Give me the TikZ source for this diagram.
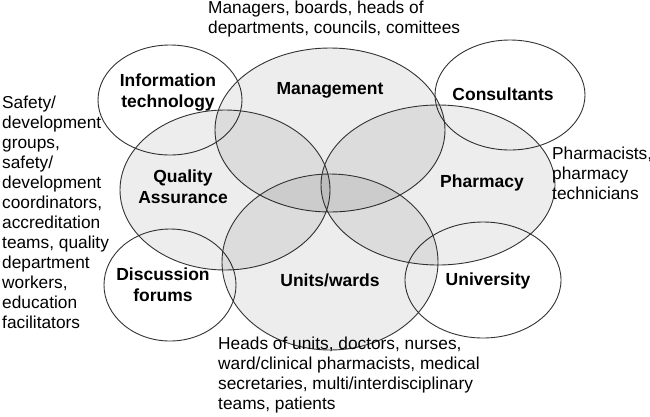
\documentclass[tikz,border=0pt]{standalone}
\usepackage{fontspec}
\setmainfont{Liberation Sans}
\begin{document}
\begin{tikzpicture}[x=1pt,y=-1pt,
  big/.style={draw=black!80,line width=0.9pt,fill=black,fill opacity=0.07,text opacity=1},
  small/.style={draw=black!80,line width=0.9pt},
  lab/.style={font=\fontsize{17.5}{21}\selectfont\bfseries,align=center},
  note/.style={font=\fontsize{17.3}{20}\selectfont,align=left,anchor=north west,inner sep=0pt}]
\useasboundingbox (0,0) rectangle (650,416);
\fill[white] (0,0) rectangle (650,416);
\draw[small] (170,100) ellipse [x radius=72,y radius=55];
\draw[small] (510,95) ellipse [x radius=75,y radius=55];
\draw[small] (170,285) ellipse [x radius=66,y radius=56];
\draw[small] (483,280) ellipse [x radius=78,y radius=58];
\draw[big] (330,130) ellipse [x radius=115,y radius=82];
\draw[big] (225,190) ellipse [x radius=105,y radius=80];
\draw[big] (438,185) ellipse [x radius=117,y radius=80];
\draw[big] (330,262) ellipse [x radius=108,y radius=88];
\node[lab] (it) at (168,93) {Information\\technology};
\node[lab] (mg) at (330,90) {Management};
\node[lab] (co) at (503,94) {Consultants};
\node[lab] (qa) at (183,187) {Quality\\Assurance};
\node[lab] (ph) at (482,183) {Pharmacy};
\node[lab] (df) at (163,285) {Discussion\\forums};
\node[lab] (uw) at (330,280) {Units/wards};
\node[lab] (un) at (488,281) {University};
\node[note] (t1) at (208,1) {Managers, boards, heads of\\departments, councils, comittees};
\node[note] (t2) at (2,96) {Safety/\\development\\groups,\\safety/\\development\\coordinators,\\accreditation\\teams,  quality\\department\\workers,\\education\\facilitators};
\node[note] (t3) at (552,147) {Pharmacists,\\pharmacy\\technicians};
\node[note] (t4) at (218,337) {Heads of units, doctors, nurses,\\ward/clinical pharmacists, medical\\secretaries, multi/interdisciplinary\\teams, patients};
\end{tikzpicture}
\end{document}
